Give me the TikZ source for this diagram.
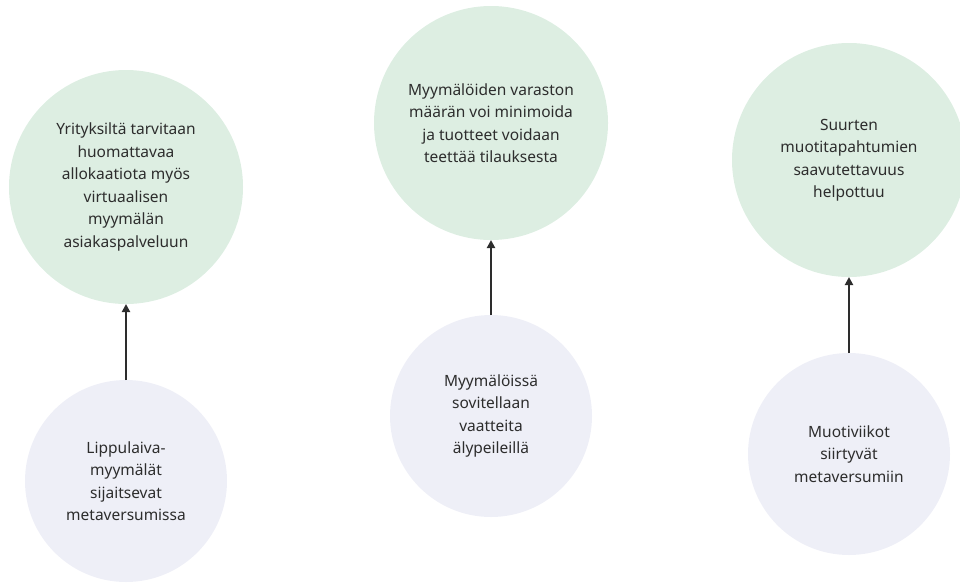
\documentclass[tikz,border=0pt]{standalone}
\usepackage{fontspec}
\setmainfont{Noto Sans}
\usetikzlibrary{arrows.meta}
\definecolor{mint}{RGB}{221,238,226}
\definecolor{lav}{RGB}{238,239,247}
\definecolor{ink}{RGB}{45,45,45}
\tikzset{
  bubble/.style={circle, inner sep=0pt, outer sep=0pt, align=center, text=ink,
    font=\fontsize{15.5}{22.5}\selectfont},
  effect/.style={bubble, fill=mint, minimum size=234pt},
  cause/.style={bubble, fill=lav, minimum size=202pt},
  link/.style={draw=ink, line width=2pt, -{Triangle[length=8pt,width=8pt]}}
}
\begin{document}
\begin{tikzpicture}[x=1pt,y=-1pt]
\useasboundingbox (0,0) rectangle (960,582);
\node[effect] (g1) at (126,187) {Yrityksiltä tarvitaan\\huomattavaa\\allokaatiota myös\\virtuaalisen\\myymälän\\asiakaspalveluun};
\node[effect] (g2) at (491,123) {Myymälöiden varaston\\määrän voi minimoida\\ja tuotteet voidaan\\teettää tilauksesta};
\node[effect] (g3) at (849,160) {Suurten\\muotitapahtumien\\saavutettavuus\\helpottuu};
\node[cause] (b1) at (126,481) {Lippulaiva-\\myymälät\\sijaitsevat\\metaversumissa};
\node[cause] (b2) at (491,416) {Myymälöissä\\sovitellaan\\vaatteita\\älypeileillä};
\node[cause] (b3) at (849,454) {Muotiviikot\\siirtyvät\\metaversumiin};
\draw[link] (b1) -- (g1);
\draw[link] (b2) -- (g2);
\draw[link] (b3) -- (g3);
\end{tikzpicture}
\end{document}
